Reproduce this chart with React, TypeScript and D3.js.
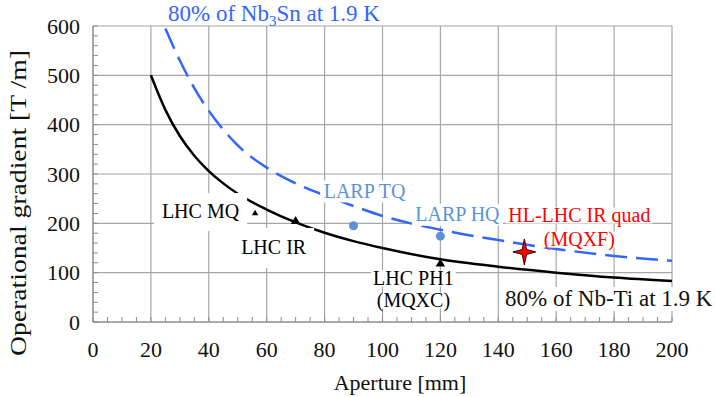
import React, { useMemo } from 'react';
import * as d3 from 'd3';

// axis ticks
const xTicks = [0, 20, 40, 60, 80, 100, 120, 140, 160, 180, 200];
const yTicks = [0, 100, 200, 300, 400, 500, 600];

// 80% of Nb-Ti at 1.9 K
const nbtiAperture = [20, 25, 30, 35, 40, 45, 50, 60, 70, 80, 90, 100, 120, 140, 160, 180, 200];
const nbtiGradient = [500, 430, 377, 337, 306, 281, 260, 228, 202, 181, 164, 150, 127, 112, 100, 90, 83];

// 80% of Nb3Sn at 1.9 K
const nb3snAperture = [25, 30, 35, 40, 45, 50, 60, 70, 80, 90, 100, 120, 140, 160, 180, 200];
const nb3snGradient = [595, 530, 474, 428, 390, 358, 313, 281, 257, 235, 215, 187, 166, 148, 134, 124];

// magnets
const pointNames = ['LHC MQ', 'LHC IR', 'LARP TQ', 'LARP HQ', 'LHC PH1\n(MQXC)', 'HL-LHC IR quad\n(MQXF)'];
const pointAperture = [56, 70, 90, 120, 120, 149];
const pointGradient = [220, 204, 195, 174, 118, 142];

const W = 716;
const H = 397;
const FONT = 'Liberation Serif, Times New Roman, Times, serif';
const GRID = '#a6a6a6';
const AXIS = '#8c8c8c';
const BLUE = '#3366ff';
const LARP = '#5b93d9';
const RED = '#ff0000';

// marker + label styling, same order as pointNames
const pointStyle = [
  { marker: 'tri', size: 18, fill: '#000', dx: -16, dy: 5, anchor: 'end', color: '#000', padX: 8, padY: 11, gap: 0 },
  { marker: 'tri', size: 38, fill: '#000', dx: -22, dy: 33, anchor: 'middle', color: '#000', padX: 8, padY: 12, gap: 0 },
  { marker: 'dot', size: 4.5, fill: LARP, dx: 11, dy: -28, anchor: 'middle', color: LARP, padX: 3, padY: 3, gap: 0 },
  { marker: 'dot', size: 4.5, fill: LARP, dx: 17, dy: -15, anchor: 'middle', color: LARP, padX: 3, padY: 3, gap: 0 },
  { marker: 'tri', size: 38, fill: '#000', dx: -27, dy: 21, anchor: 'middle', color: '#000', padX: 2, padY: 0, gap: 22 },
  { marker: 'star', size: 13, fill: RED, dx: 55, dy: -30, anchor: 'middle', color: RED, padX: 2, padY: 0, gap: 24 },
];

let ctx: CanvasRenderingContext2D | null = null;
function measure(text: string, size: number) {
  if (!ctx) ctx = document.createElement('canvas').getContext('2d');
  if (!ctx) return text.length * size * 0.5;
  ctx.font = `${size}px "Liberation Serif", serif`;
  return ctx.measureText(text).width;
}

function starPath(r: number) {
  const pts = d3.range(8).map((i) => {
    const a = (i * Math.PI) / 4;
    const rad = i % 2 === 0 ? r : 3.5;
    return [Math.sin(a) * rad * 0.88, -Math.cos(a) * rad] as [number, number];
  });
  return d3.line()(pts) + 'Z';
}

const App = () => {
  const margin = { top: 26, right: 44, bottom: 75, left: 93 };
  const x = d3.scaleLinear().domain([0, 200]).range([margin.left, W - margin.right]);
  const y = d3.scaleLinear().domain([0, 600]).range([H - margin.bottom, margin.top]);

  const xMinor = d3.range(0, 201, 5);
  const yMinor = d3.range(0, 601, 20);

  const line = d3.line<[number, number]>()
    .x((d) => x(d[0]))
    .y((d) => y(d[1]))
    .curve(d3.curveMonotoneX);

  const nbtiPath = line(nbtiAperture.map((a, i) => [a, nbtiGradient[i]]));
  const nb3snPath = line(nb3snAperture.map((a, i) => [a, nb3snGradient[i]]));

  const labels = useMemo(() => {
    const fs = 20;
    return pointNames.map((name, i) => {
      const st = pointStyle[i];
      const px = x(pointAperture[i]) + st.dx;
      const py = y(pointGradient[i]) + st.dy;
      return name.split('\n').map((txt, j) => {
        const w = measure(txt, fs);
        const x0 = st.anchor === 'end' ? px - w : st.anchor === 'middle' ? px - w / 2 : px;
        const base = py + j * st.gap;
        return {
          txt, x: px, base, color: st.color, anchor: st.anchor, fs,
          box: { x: x0 - st.padX, y: base - 0.72 * fs - st.padY, w: w + 2 * st.padX, h: 0.8 * fs + 2 * st.padY },
        };
      });
    }).flat();
  }, []);

  const tri = (s: number) => d3.symbol().type(d3.symbolTriangle).size(s)();

  return (
    <div style={{ position: 'absolute', left: 0, top: 0 }}>
      <svg width={W} height={H} style={{ display: 'block' }} fontFamily={FONT}>
        <rect width={W} height={H} fill="#fff" />

        {/* grid */}
        {xTicks.slice(1).map((t) => (
          <line key={'gx' + t} x1={x(t)} x2={x(t)} y1={y(0)} y2={y(600)} stroke={GRID} strokeWidth={1.2} />
        ))}
        {yTicks.slice(1).map((t) => (
          <line key={'gy' + t} x1={x(0)} x2={x(200)} y1={y(t)} y2={y(t)} stroke={GRID} strokeWidth={1.2} />
        ))}

        {/* axes */}
        <line x1={x(0)} x2={x(200)} y1={y(0)} y2={y(0)} stroke={AXIS} strokeWidth={1.5} />
        <line x1={x(0)} x2={x(0)} y1={y(0)} y2={y(600)} stroke={AXIS} strokeWidth={1.5} />
        {xMinor.map((t) => (
          <line key={'mx' + t} x1={x(t)} x2={x(t)} y1={y(0)} y2={y(0) - 5} stroke={AXIS} strokeWidth={1} />
        ))}
        {yMinor.map((t) => (
          <line key={'my' + t} x1={x(0)} x2={x(0) + 5} y1={y(t)} y2={y(t)} stroke={AXIS} strokeWidth={1} />
        ))}

        {xTicks.map((t) => (
          <text key={'tx' + t} x={x(t)} y={357} textAnchor="middle" fontSize={22} fill="#111" fontFamily={FONT}>{t}</text>
        ))}
        {yTicks.map((t) => (
          <text key={'ty' + t} x={80} y={y(t) + 7.5} textAnchor="end" fontSize={22} fill="#111" fontFamily={FONT}>{t}</text>
        ))}

        <text x={400} y={390} textAnchor="middle" fontSize={22} fill="#111" fontFamily={FONT}>Aperture [mm]</text>
        <text transform="translate(26,203) rotate(-90)" textAnchor="middle" fontSize={23} fill="#111" fontFamily={FONT}
          textLength={306} lengthAdjust="spacingAndGlyphs">Operational gradient [T /m]</text>

        {/* curves */}
        <path d={nbtiPath || ''} fill="none" stroke="#000" strokeWidth={2.5} />
        <path d={nb3snPath || ''} fill="none" stroke={BLUE} strokeWidth={2.5} strokeDasharray="22,9" />

        {/* labels with white backgrounds */}
        {labels.map((l, i) => (
          <rect key={'lb' + i} x={l.box.x} y={l.box.y} width={l.box.w} height={l.box.h} fill="#fff" />
        ))}
        {labels.map((l, i) => (
          <text key={'lt' + i} x={l.x} y={l.base} textAnchor={l.anchor} fontSize={l.fs} fill={l.color} fontFamily={FONT}>{l.txt}</text>
        ))}

        <text x={168} y={21} fontSize={23} fill={BLUE} fontFamily={FONT}>
          80% of Nb<tspan fontSize={15} dy={5}>3</tspan><tspan dy={-5}>Sn at 1.9 K</tspan>
        </text>
        <rect x={500} y={287} width={216} height={24} fill="#fff" />
        <text x={505} y={306} fontSize={23} fill="#111" fontFamily={FONT}>80% of Nb-Ti at 1.9 K</text>

        {/* markers */}
        {pointNames.map((n, i) => {
          const st = pointStyle[i];
          const cx = x(pointAperture[i]);
          const cy = y(pointGradient[i]);
          if (st.marker === 'dot') return <circle key={'m' + i} cx={cx} cy={cy} r={st.size} fill={st.fill} />;
          if (st.marker === 'star')
            return <path key={'m' + i} d={starPath(st.size)} transform={`translate(${cx},${cy})`} fill={st.fill} stroke="#3a0000" strokeWidth={1} />;
          return <path key={'m' + i} d={tri(st.size) || ''} transform={`translate(${cx},${cy})`} fill={st.fill} />;
        })}
      </svg>
    </div>
  );
};

export default App;
